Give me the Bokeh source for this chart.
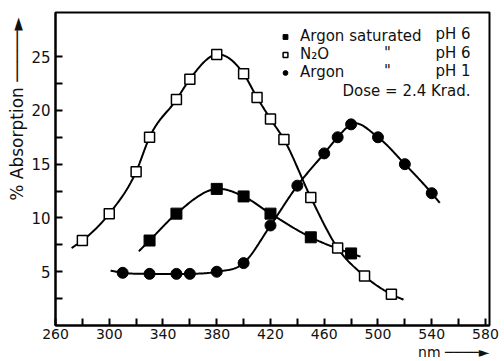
import numpy as np
from bokeh.plotting import figure
from bokeh.models import (Range1d, FixedTicker, Legend, LegendItem, Label, Title)
from bokeh.embed import file_html
from bokeh.resources import INLINE

# ---- data (wavelength nm, % absorption) ----
n2o_nm = [280, 300, 320, 330, 350, 360, 380, 400, 410, 420, 430, 450, 470, 490, 510]
n2o_abs = [7.9, 10.4, 14.3, 17.5, 21.0, 22.9, 25.2, 23.4, 21.2, 19.2, 17.3, 11.9, 7.2, 4.6, 2.9]
n2o_curve_start = [272, 7.2]
n2o_curve_end = [519, 2.4]

argsat_nm = [330, 350, 380, 400, 420, 450, 480]
argsat_abs = [7.9, 10.4, 12.7, 12.0, 10.4, 8.2, 6.7]
argsat_curve_start = [322, 6.9]
argsat_curve_end = [487, 6.4]

arg1_nm = [310, 330, 350, 360, 380, 400, 420, 440, 460, 470, 480, 500, 520, 540]
arg1_abs = [4.9, 4.8, 4.8, 4.8, 5.0, 5.8, 9.3, 13.0, 16.0, 17.5, 18.7, 17.5, 15.0, 12.3]
arg1_curve_start = [301, 5.1]
arg1_curve_end = [546, 11.4]

x_major = [260, 300, 340, 380, 420, 460, 500, 540, 580]
x_minor = [280, 320, 360, 400, 440, 480, 520, 560]
y_major = [5, 10, 15, 20, 25]
y_minor = [2.5, 7.5, 12.5, 17.5, 22.5]

FONT = "DejaVu Sans"
INK = "#111111"


def smooth(xs, ys, start, end, n=25):
    """Smooth cubic Hermite curve drawn through the given points."""
    x = np.array([start[0]] + list(xs) + [end[0]], dtype=float)
    y = np.array([start[1]] + list(ys) + [end[1]], dtype=float)
    m = np.gradient(y, x)
    out_x, out_y = [], []
    for i in range(len(x) - 1):
        h = x[i + 1] - x[i]
        t = np.linspace(0, 1, n, endpoint=(i == len(x) - 2))
        h00 = 2 * t**3 - 3 * t**2 + 1
        h10 = t**3 - 2 * t**2 + t
        h01 = -2 * t**3 + 3 * t**2
        h11 = t**3 - t**2
        out_x.extend(x[i] + t * h)
        out_y.extend(h00 * y[i] + h10 * h * m[i] + h01 * y[i + 1] + h11 * h * m[i + 1])
    return out_x, out_y


# frame: left 55, top 12, right 489, bottom 325 (page pixels)
p = figure(width=504, height=361, output_backend="svg", toolbar_location=None,
           x_range=Range1d(260, 583), y_range=Range1d(0, 29.1),
           min_border_left=55, min_border_right=15, min_border_top=12, min_border_bottom=36)
p.grid.visible = False
p.outline_line_color = "black"
p.outline_line_width = 2
p.background_fill_color = "white"

for ax in (p.xaxis[0], p.yaxis[0]):
    ax.axis_line_width = 2
    ax.major_tick_line_width = 2
    ax.minor_tick_line_width = 2
    ax.major_tick_in = 7
    ax.major_tick_out = 0
    ax.minor_tick_in = 7
    ax.minor_tick_out = 0
    ax.major_label_text_font = FONT
    ax.major_label_text_color = INK
p.xaxis.major_label_text_font_size = "14px"
p.xaxis.major_label_standoff = 3
p.yaxis.major_label_text_font_size = "15px"
p.yaxis.major_label_standoff = 5

p.xaxis.ticker = FixedTicker(ticks=x_major, minor_ticks=x_minor)
p.yaxis.ticker = FixedTicker(ticks=y_major, minor_ticks=y_minor)

# curves
for xs, ys, s, e in ((n2o_nm, n2o_abs, n2o_curve_start, n2o_curve_end),
                     (argsat_nm, argsat_abs, argsat_curve_start, argsat_curve_end),
                     (arg1_nm, arg1_abs, arg1_curve_start, arg1_curve_end)):
    cx, cy = smooth(xs, ys, s, e)
    p.line(cx, cy, line_color="black", line_width=2)

r_sat = p.scatter(argsat_nm, argsat_abs, marker="square", size=11,
                  fill_color="black", line_color="black")
r_n2o = p.scatter(n2o_nm, n2o_abs, marker="square", size=10,
                  fill_color="white", line_color="black", line_width=1.5)
r_arg = p.scatter(arg1_nm, arg1_abs, marker="circle", size=11,
                  fill_color="black", line_color="black")

# frame height = 313 px, width = 434 px
legend = Legend(items=[LegendItem(label="Argon saturated", renderers=[r_sat]),
                       LegendItem(label="N₂O", renderers=[r_n2o]),
                       LegendItem(label="Argon", renderers=[r_arg])],
                location=(224, 244), orientation="vertical",
                glyph_width=12, glyph_height=15, label_height=15, spacing=0,
                label_standoff=9, padding=0, margin=0,
                border_line_color=None, background_fill_alpha=0,
                label_text_font=FONT, label_text_font_size="15px",
                label_text_color=INK)
p.add_layout(legend)

common = dict(x_units="screen", y_units="screen", text_font=FONT,
              text_font_size="15px", text_color=INK, text_baseline="middle")
for yy, ph in ((313 - 21, "pH 6"), (313 - 40, "pH 6"), (313 - 58, "pH 1")):
    p.add_layout(Label(x=415, y=yy, text=ph, text_align="right", **common))
for yy in (313 - 40, 313 - 58):
    p.add_layout(Label(x=332, y=yy, text='"', text_align="center", **common))
p.add_layout(Label(x=415, y=313 - 78, text="Dose = 2.4 Krad.", text_align="right", **common))

# axis captions (in the side panels)
p.add_layout(Title(text="% Absorption \u2500\u2500\u2500\u2500\u2500\u25BA", align="right",
                   offset=5, standoff=3, text_font=FONT, text_font_size="17px",
                   text_font_style="normal", text_color=INK), "left")
p.add_layout(Title(text="nm \u2500\u2500\u2500\u2500\u25BA", align="right",
                   offset=0, standoff=0, text_font=FONT, text_font_size="14px",
                   text_font_style="normal", text_color=INK), "below")

open("out.html", "w").write(file_html(p, INLINE))
